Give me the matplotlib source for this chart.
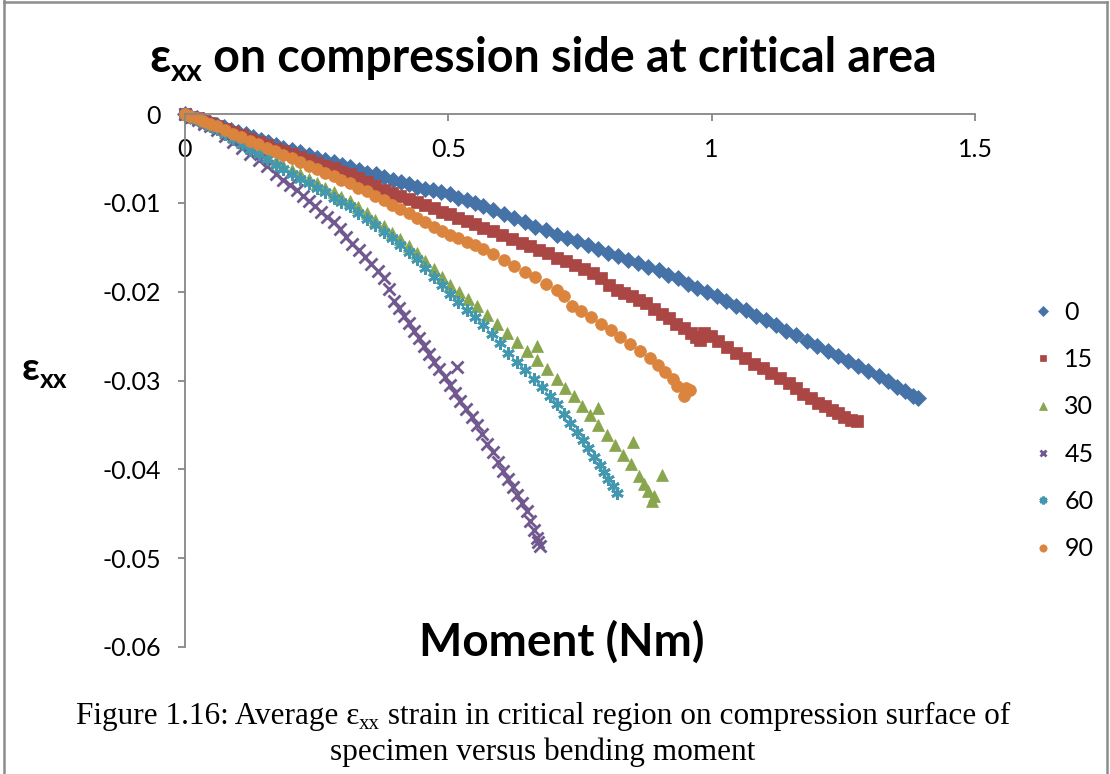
import matplotlib
matplotlib.use("Agg")
import matplotlib.pyplot as plt

W, H = 1110, 774
SANS = ["Lato", "Noto Sans", "DejaVu Sans"]
SERIF = ["Liberation Serif", "DejaVu Serif"]

# moment (Nm) and average strain for each fibre angle
m_0 = [0.000, 0.010, 0.022, 0.035, 0.048, 0.060, 0.074, 0.088, 0.101, 0.115, 0.130, 0.144, 0.158, 0.172,
       0.187, 0.203, 0.219, 0.235, 0.251, 0.266, 0.282, 0.298, 0.313, 0.330, 0.346, 0.362, 0.378, 0.394,
       0.410, 0.425, 0.440, 0.456, 0.471, 0.487, 0.503, 0.519, 0.535, 0.550, 0.566, 0.585, 0.605, 0.625,
       0.645, 0.665, 0.686, 0.706, 0.725, 0.745, 0.765, 0.784, 0.803, 0.822, 0.842, 0.860, 0.880, 0.900,
       0.918, 0.937, 0.955, 0.973, 0.991, 1.010, 1.028, 1.046, 1.065, 1.084, 1.103, 1.122, 1.142, 1.161,
       1.181, 1.200, 1.220, 1.239, 1.258, 1.278, 1.297, 1.317, 1.335, 1.352, 1.368, 1.382, 1.391]
e_0 = [0.0000, -0.0002, -0.0005, -0.0007, -0.0010, -0.0012, -0.0015, -0.0018, -0.0020, -0.0023, -0.0026,
       -0.0029, -0.0032, -0.0035, -0.0038, -0.0040, -0.0043, -0.0046, -0.0049, -0.0052, -0.0054, -0.0057,
       -0.0060, -0.0063, -0.0066, -0.0068, -0.0071, -0.0074, -0.0077, -0.0079, -0.0082, -0.0084, -0.0086,
       -0.0088, -0.0090, -0.0094, -0.0097, -0.0100, -0.0104, -0.0108, -0.0113, -0.0117, -0.0122, -0.0127,
       -0.0131, -0.0136, -0.0140, -0.0143, -0.0148, -0.0152, -0.0156, -0.0160, -0.0164, -0.0168, -0.0172,
       -0.0176, -0.0181, -0.0185, -0.0191, -0.0196, -0.0200, -0.0205, -0.0210, -0.0216, -0.0221, -0.0227,
       -0.0232, -0.0238, -0.0244, -0.0249, -0.0255, -0.0261, -0.0267, -0.0272, -0.0278, -0.0284, -0.0289,
       -0.0295, -0.0301, -0.0307, -0.0312, -0.0317, -0.0320]

m_15 = [0.000, 0.012, 0.024, 0.036, 0.048, 0.060, 0.076, 0.092, 0.108, 0.124, 0.140, 0.156, 0.172, 0.187,
        0.203, 0.219, 0.235, 0.250, 0.266, 0.282, 0.297, 0.313, 0.329, 0.345, 0.361, 0.377, 0.393, 0.409,
        0.425, 0.440, 0.456, 0.472, 0.488, 0.503, 0.519, 0.535, 0.550, 0.566, 0.584, 0.602, 0.620, 0.639,
        0.656, 0.673, 0.690, 0.707, 0.723, 0.740, 0.757, 0.774, 0.789, 0.805, 0.820, 0.834, 0.848, 0.862,
        0.876, 0.890, 0.905, 0.919, 0.933, 0.947, 0.960, 0.971, 0.978, 0.986, 0.998, 1.012, 1.029, 1.046,
        1.063, 1.080, 1.097, 1.113, 1.130, 1.147, 1.160, 1.174, 1.188, 1.202, 1.215, 1.228, 1.240, 1.252,
        1.264, 1.276]
e_15 = [0.0000, -0.0003, -0.0005, -0.0008, -0.0010, -0.0013, -0.0017, -0.0020, -0.0024, -0.0028, -0.0031,
        -0.0035, -0.0039, -0.0042, -0.0045, -0.0048, -0.0052, -0.0055, -0.0058, -0.0061, -0.0065, -0.0068,
        -0.0072, -0.0077, -0.0081, -0.0085, -0.0089, -0.0092, -0.0096, -0.0099, -0.0103, -0.0106, -0.0110,
        -0.0113, -0.0117, -0.0121, -0.0124, -0.0128, -0.0132, -0.0136, -0.0141, -0.0145, -0.0149, -0.0153,
        -0.0157, -0.0162, -0.0166, -0.0170, -0.0175, -0.0179, -0.0185, -0.0192, -0.0198, -0.0202, -0.0205,
        -0.0209, -0.0213, -0.0219, -0.0225, -0.0230, -0.0236, -0.0241, -0.0246, -0.0251, -0.0254, -0.0246,
        -0.0250, -0.0256, -0.0262, -0.0269, -0.0275, -0.0281, -0.0286, -0.0292, -0.0297, -0.0303, -0.0309,
        -0.0315, -0.0320, -0.0325, -0.0329, -0.0333, -0.0337, -0.0341, -0.0344, -0.0346]

m_30 = [0.000, 0.012, 0.024, 0.036, 0.048, 0.060, 0.076, 0.092, 0.108, 0.124, 0.140, 0.156, 0.172, 0.187,
        0.203, 0.219, 0.235, 0.250, 0.266, 0.282, 0.297, 0.313, 0.329, 0.345, 0.361, 0.377, 0.393, 0.409,
        0.425, 0.440, 0.456, 0.472, 0.488, 0.503, 0.520, 0.537, 0.554, 0.573, 0.592, 0.611, 0.630, 0.649,
        0.668, 0.668, 0.687, 0.706, 0.722, 0.738, 0.754, 0.769, 0.785, 0.785, 0.801, 0.816, 0.832, 0.847,
        0.851, 0.862, 0.872, 0.880, 0.886, 0.890, 0.905]
e_30 = [0.0000, -0.0003, -0.0006, -0.0009, -0.0012, -0.0015, -0.0020, -0.0025, -0.0031, -0.0036, -0.0042,
        -0.0047, -0.0053, -0.0058, -0.0063, -0.0068, -0.0073, -0.0078, -0.0083, -0.0088, -0.0093, -0.0098,
        -0.0105, -0.0112, -0.0119, -0.0126, -0.0134, -0.0141, -0.0149, -0.0157, -0.0166, -0.0175, -0.0184,
        -0.0192, -0.0200, -0.0208, -0.0216, -0.0226, -0.0236, -0.0247, -0.0257, -0.0267, -0.0261, -0.0277,
        -0.0287, -0.0298, -0.0308, -0.0318, -0.0329, -0.0339, -0.0331, -0.0350, -0.0361, -0.0373, -0.0384,
        -0.0394, -0.0369, -0.0407, -0.0416, -0.0424, -0.0436, -0.0430, -0.0406]

m_45 = [0.000, 0.012, 0.024, 0.036, 0.048, 0.060, 0.076, 0.092, 0.108, 0.124, 0.140, 0.156, 0.172, 0.187,
        0.200, 0.212, 0.224, 0.236, 0.247, 0.259, 0.270, 0.282, 0.294, 0.306, 0.318, 0.330, 0.342, 0.354,
        0.366, 0.377, 0.387, 0.396, 0.406, 0.415, 0.425, 0.434, 0.444, 0.453, 0.463, 0.473, 0.483, 0.493,
        0.503, 0.513, 0.516, 0.523, 0.533, 0.544, 0.554, 0.564, 0.574, 0.584, 0.594, 0.604, 0.613, 0.622,
        0.631, 0.640, 0.649, 0.656, 0.662, 0.668, 0.674, 0.670]
e_45 = [0.0000, -0.0003, -0.0007, -0.0011, -0.0014, -0.0018, -0.0025, -0.0031, -0.0038, -0.0045, -0.0052,
        -0.0059, -0.0067, -0.0074, -0.0080, -0.0086, -0.0092, -0.0098, -0.0104, -0.0110, -0.0116, -0.0122,
        -0.0130, -0.0138, -0.0146, -0.0153, -0.0161, -0.0169, -0.0177, -0.0185, -0.0197, -0.0210, -0.0218,
        -0.0227, -0.0235, -0.0244, -0.0252, -0.0261, -0.0270, -0.0279, -0.0287, -0.0296, -0.0305, -0.0314,
        -0.0285, -0.0323, -0.0332, -0.0341, -0.0350, -0.0360, -0.0371, -0.0381, -0.0392, -0.0402, -0.0411,
        -0.0420, -0.0429, -0.0438, -0.0447, -0.0458, -0.0468, -0.0477, -0.0486, -0.0482]

m_60 = [0.000, 0.012, 0.024, 0.036, 0.048, 0.060, 0.076, 0.092, 0.108, 0.124, 0.140, 0.156, 0.172, 0.187,
        0.203, 0.219, 0.235, 0.250, 0.266, 0.282, 0.297, 0.313, 0.329, 0.345, 0.361, 0.377, 0.393, 0.409,
        0.425, 0.440, 0.456, 0.472, 0.488, 0.503, 0.519, 0.535, 0.550, 0.566, 0.582, 0.598, 0.614, 0.630,
        0.646, 0.662, 0.677, 0.693, 0.706, 0.719, 0.731, 0.744, 0.755, 0.766, 0.777, 0.788, 0.796, 0.804,
        0.812, 0.820]
e_60 = [0.0000, -0.0003, -0.0007, -0.0010, -0.0014, -0.0017, -0.0023, -0.0028, -0.0034, -0.0040, -0.0045,
        -0.0051, -0.0057, -0.0062, -0.0067, -0.0073, -0.0078, -0.0083, -0.0088, -0.0094, -0.0099, -0.0104,
        -0.0111, -0.0118, -0.0125, -0.0133, -0.0140, -0.0148, -0.0155, -0.0163, -0.0173, -0.0183, -0.0193,
        -0.0203, -0.0212, -0.0221, -0.0229, -0.0238, -0.0248, -0.0258, -0.0269, -0.0279, -0.0288, -0.0298,
        -0.0307, -0.0317, -0.0327, -0.0338, -0.0348, -0.0358, -0.0367, -0.0376, -0.0386, -0.0395, -0.0403,
        -0.0411, -0.0419, -0.0427]

m_90 = [0.000, 0.010, 0.022, 0.034, 0.047, 0.060, 0.075, 0.091, 0.107, 0.123, 0.139, 0.155, 0.171, 0.187,
        0.203, 0.219, 0.235, 0.250, 0.266, 0.282, 0.297, 0.313, 0.329, 0.345, 0.361, 0.377, 0.393, 0.409,
        0.425, 0.440, 0.456, 0.472, 0.488, 0.503, 0.519, 0.535, 0.550, 0.566, 0.585, 0.605, 0.625, 0.645,
        0.665, 0.686, 0.706, 0.720, 0.734, 0.752, 0.770, 0.789, 0.808, 0.826, 0.845, 0.864, 0.883, 0.898,
        0.912, 0.927, 0.935, 0.947, 0.952, 0.959]
e_90 = [0.0000, -0.0002, -0.0005, -0.0008, -0.0011, -0.0014, -0.0018, -0.0022, -0.0026, -0.0030, -0.0034,
        -0.0038, -0.0042, -0.0046, -0.0050, -0.0054, -0.0058, -0.0062, -0.0066, -0.0070, -0.0074, -0.0078,
        -0.0083, -0.0087, -0.0092, -0.0097, -0.0102, -0.0107, -0.0112, -0.0117, -0.0122, -0.0127, -0.0132,
        -0.0136, -0.0140, -0.0144, -0.0148, -0.0152, -0.0158, -0.0164, -0.0171, -0.0178, -0.0184, -0.0191,
        -0.0198, -0.0205, -0.0216, -0.0222, -0.0229, -0.0236, -0.0243, -0.0251, -0.0259, -0.0267, -0.0275,
        -0.0283, -0.0290, -0.0298, -0.0306, -0.0318, -0.0308, -0.0311]

angles = ["0", "15", "30", "45", "60", "90"]
x_ticks = [0, 0.5, 1, 1.5]
x_tick_labels = ["0", "0.5", "1", "1.5"]
y_ticks = [0, -0.01, -0.02, -0.03, -0.04, -0.05, -0.06]
y_tick_labels = ["0", "-0.01", "-0.02", "-0.03", "-0.04", "-0.05", "-0.06"]

series = [
    (m_0, e_0, "D", "#4572A7", 8.0, 0.5),
    (m_15, e_15, "s", "#AA4643", 8.0, 0.5),
    (m_30, e_30, "^", "#89A54E", 9.0, 0.5),
    (m_45, e_45, "x", "#71588F", 8.0, 2.0),
    (m_60, e_60, (6, 2, 0), "#4198AF", 9.0, 2.0),
    (m_90, e_90, "o", "#DB843D", 8.5, 0.5),
]

fig = plt.figure(figsize=(W / 100, H / 100), dpi=100)
fig.patch.set_facecolor("white")

ax = fig.add_axes([185 / W, 1 - 647 / H, 790 / W, 533 / H])
for (mx, ey, mk, col, ms, mew), lab in zip(series, angles):
    ax.plot(mx, ey, linestyle="none", marker=mk, markersize=ms, markeredgewidth=mew,
            color=col, markeredgecolor=col, label=lab, clip_on=False)

ax.set_xlim(0, 1.5)
ax.set_ylim(-0.06, 0)
ax.spines["right"].set_visible(False)
ax.spines["top"].set_visible(False)
ax.spines["bottom"].set_position(("data", 0))
for s in ["left", "bottom"]:
    ax.spines[s].set_color("#868686")
    ax.spines[s].set_linewidth(1.3)

ax.set_xticks(x_ticks)
ax.set_xticklabels(x_tick_labels)
ax.set_yticks(y_ticks)
ax.set_yticklabels(y_tick_labels)
ax.tick_params(axis="both", direction="out", length=5, width=1.3, color="#868686",
               labelsize=18, pad=12.5)
for t in ax.get_xticklabels() + ax.get_yticklabels():
    t.set_family(SANS)

leg = ax.legend(loc="upper left", bbox_to_anchor=(1033 / W, 1 - 301 / H),
                bbox_transform=fig.transFigure, frameon=False, prop={"family": SANS, "size": 18},
                labelspacing=0.97, handlelength=0.8, handletextpad=0.45, markerscale=0.62,
                borderaxespad=0, borderpad=0)

renderer = fig.canvas.get_renderer()


def text_run(x, y, pieces, family, weight="normal", ha="center"):
    # lays out pieces (text, size, baseline shift px) side by side
    arts = []
    for s, size, dy in pieces:
        t = fig.text(0, y + dy / H, s, fontsize=size, family=family, weight=weight, va="baseline")
        arts.append(t)
    widths = [t.get_window_extent(renderer).width for t in arts]
    left = x - sum(widths) / W / 2 if ha == "center" else x
    for t, w in zip(arts, widths):
        t.set_x(left)
        left += w / W
    return arts


# chart title
text_run(543 / W, 1 - 72 / H,
         [("ε", 33.5, 0), ("xx", 22, -9), (" on compression side at critical area", 33.5, 0)],
         SANS, weight="bold")

# axis titles
text_run(22 / W, 1 - 380 / H, [("ε", 28, 0), ("xx", 19, -8)], SANS, weight="bold", ha="left")
fig.text(562 / W, 1 - 656 / H, "Moment (Nm)", fontsize=33, family=SANS, weight="bold",
         ha="center", va="baseline")

# figure caption
text_run(543 / W, 1 - 724 / H,
         [("Figure 1.16: Average ε", 22.5, 0), ("xx", 15, -5),
          (" strain in critical region on compression surface of", 22.5, 0)], SERIF)
fig.text(543 / W, 1 - 760 / H, "specimen versus bending moment", fontsize=22.5, family=SERIF,
         ha="center", va="baseline")

# frame around the chart
for xs, ys in [([4, 4], [0, H]), ([4, 1107], [H - 2, H - 2]), ([1107, 1107], [0, H - 2])]:
    fig.add_artist(plt.Line2D([v / W for v in xs], [v / H for v in ys], color="#8c8c8c",
                              linewidth=1.8, transform=fig.transFigure))

fig.savefig("out.png", dpi=100)
